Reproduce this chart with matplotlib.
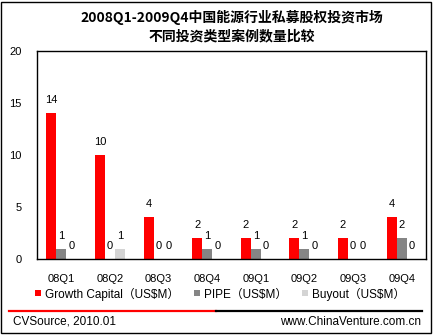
import matplotlib
matplotlib.use('Agg')
import matplotlib.pyplot as plt
from matplotlib.lines import Line2D
from matplotlib.patches import Rectangle
import numpy as np

W, H = 435, 335

quarters = ['08Q1', '08Q2', '08Q3', '08Q4', '09Q1', '09Q2', '09Q3', '09Q4']
growth = [14, 10, 4, 2, 2, 2, 2, 4]
pipe = [1, 0, 0, 1, 1, 1, 0, 2]
buyout = [0, 1, 0, 0, 0, 0, 0, 0]

series_names = ['Growth Capital（US$M）', 'PIPE（US$M）', 'Buyout（US$M）']
series_colors = ['#FF0000', '#858585', '#D4D4D4']

title_lines = ['2008Q1-2009Q4中国能源行业私募股权投资市场', '不同投资类型案例数量比较']
source_text = 'CVSource, 2010.01'
site_text = 'www.ChinaVenture.com.cn'

cjk = ['Noto Sans CJK SC', 'DejaVu Sans']
latin = ['Liberation Sans', 'Noto Sans CJK SC']

fig = plt.figure(figsize=(W / 100, H / 100), dpi=100)
fig.patch.set_facecolor('white')


def px(x, y):
    # pixel coords (top-left origin) -> figure fraction
    return x / W, 1 - y / H


ax = fig.add_axes([37 / W, 1 - 259 / H, 389 / W, 208 / H])
x = np.arange(len(quarters))
bw = 0.206
for k, (vals, col) in enumerate(zip([growth, pipe, buyout], series_colors)):
    pos = x + (k - 1) * bw
    ax.bar(pos, vals, width=bw, color=col, linewidth=0)
    for xp, v in zip(pos, vals):
        ax.annotate(str(v), (xp, v), xytext=(0, 13), textcoords='offset pixels',
                    ha='center', va='center', fontsize=8, family=latin)

ax.set_xlim(-0.5, len(quarters) - 0.5)
ax.set_ylim(0, 20)
ax.set_yticks([0, 5, 10, 15, 20])
ax.set_xticks(x)
ax.set_xticklabels(quarters)
ax.tick_params(axis='both', length=0, labelsize=8)
ax.tick_params(axis='x', pad=11)
ax.tick_params(axis='y', pad=11)
for lab in ax.get_xticklabels() + ax.get_yticklabels():
    lab.set_family(latin)
for sp in ax.spines.values():
    sp.set_color('black')
    sp.set_linewidth(1.0)

# title
for i, line in enumerate(title_lines):
    fig.text(*px(232, 17 + i * 19), line, ha='center', va='center',
             fontsize=10, fontweight='bold', family=cjk)

# legend
handles = [Line2D([], [], marker='s', linestyle='none', markersize=5,
                  markerfacecolor=c, markeredgewidth=0) for c in series_colors]
fig.legend(handles, series_names, loc='center', bbox_to_anchor=px(220, 294),
           ncol=3, frameon=False, handlelength=0.6, handletextpad=0.3,
           columnspacing=1.2, prop={'family': latin, 'size': 8.5})

# divider line and footer
fig.add_artist(Line2D([9 / W, 216 / W], [1 - 311 / H] * 2, color='#FF0000', lw=1.6))
fig.add_artist(Line2D([216 / W, 422 / W], [1 - 311 / H] * 2, color='black', lw=1.6))
fig.text(*px(13, 322), source_text, ha='left', va='center', fontsize=8.5, family=latin)
fig.text(*px(421, 322), site_text, ha='right', va='center', fontsize=8.5, family=latin)

# outer border
fig.add_artist(Rectangle((1.5 / W, 1 - 333 / H), 430 / W, 331.5 / H,
                         transform=fig.transFigure, fill=False, edgecolor='black', lw=1.0))

fig.savefig('out.png', dpi=100)
